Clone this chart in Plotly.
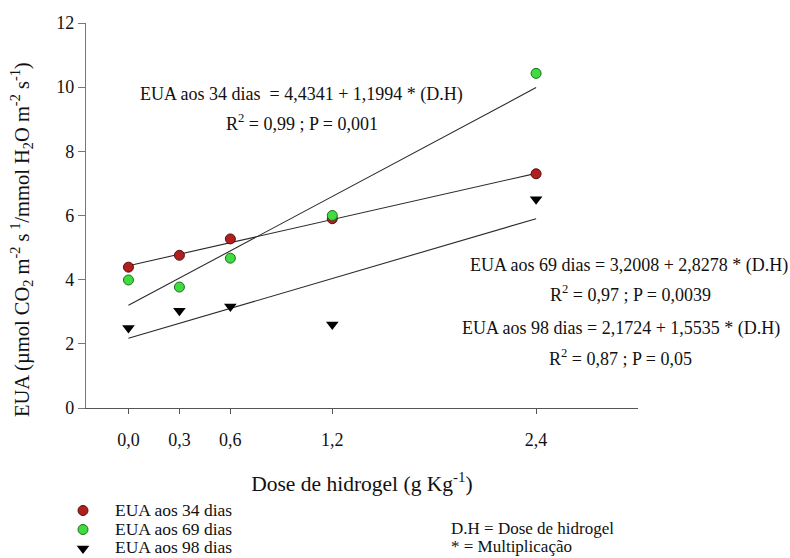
import plotly.graph_objects as go

# Data
dose = [0.0, 0.3, 0.6, 1.2, 2.4]
dose_labels = ["0,0", "0,3", "0,6", "1,2", "2,4"]
eua_34 = [4.39, 4.76, 5.27, 5.90, 7.30]
eua_69 = [3.99, 3.77, 4.67, 6.00, 10.43]
eua_98 = [2.49, 3.03, 3.16, 2.60, 6.51]
series_names = ["EUA aos 34 dias", "EUA aos 69 dias", "EUA aos 98 dias"]
# regression coefficients (intercept, slope) as printed on the chart
reg_34 = (4.4341, 1.1994)
reg_69 = (3.2008, 2.8278)
reg_98 = (2.1724, 1.5535)
line_x = [0.0, 2.4]
y_ticks = [0, 2, 4, 6, 8, 10, 12]

FONT = "Liberation Serif, Times New Roman, serif"
W, H = 790, 558
ML, MR, MT, MB = 86, 152, 23, 150
PW, PH = W - ML - MR, H - MT - MB

def px_x(p):
    return (p - ML) / PW

def px_y(p):
    return (H - MB - p) / PH

fig = go.Figure()

for (a, b) in (reg_34, reg_69, reg_98):
    fig.add_trace(go.Scatter(
        x=line_x, y=[a + b * v for v in line_x], mode="lines",
        line=dict(color="#2a2a2a", width=1.1), showlegend=False, hoverinfo="skip"))

fig.add_trace(go.Scatter(
    x=dose, y=eua_34, mode="markers", name=series_names[0],
    marker=dict(symbol="circle", size=10, color="#b01e1e",
                line=dict(color="#5a0d0d", width=1))))
fig.add_trace(go.Scatter(
    x=dose, y=eua_69, mode="markers", name=series_names[1],
    marker=dict(symbol="circle", size=10, color="#3fdc3f",
                line=dict(color="#1d6b1d", width=1))))
fig.add_trace(go.Scatter(
    x=dose, y=eua_98, mode="markers", name=series_names[2],
    marker=dict(symbol="triangle-down", size=11, color="#000000",
                line=dict(color="#000000", width=0))))

annos = [
    ("EUA aos 34 dias  = 4,4341 + 1,1994 * (D.H)", 301, 95),
    ("R<sup>2</sup> = 0,99 ; P = 0,001", 302, 123),
    ("EUA aos 69 dias = 3,2008 + 2,8278 * (D.H)", 629, 265),
    ("R<sup>2</sup> = 0,97 ; P = 0,0039", 630, 293),
    ("EUA aos 98 dias = 2,1724 + 1,5535 * (D.H)", 621, 328),
    ("R<sup>2</sup> = 0,87 ; P = 0,05", 620, 357),
]
for text, cx, cy in annos:
    fig.add_annotation(text=text, xref="paper", yref="paper",
                       x=px_x(cx), y=px_y(cy), xanchor="center", yanchor="middle",
                       showarrow=False, font=dict(family=FONT, size=18, color="#111"))

fig.add_annotation(text="D.H = Dose de hidrogel", xref="paper", yref="paper",
                   x=px_x(449), y=px_y(528), xanchor="left", yanchor="middle",
                   showarrow=False, font=dict(family=FONT, size=17, color="#111"))
fig.add_annotation(text="* = Multiplicação", xref="paper", yref="paper",
                   x=px_x(449), y=px_y(546), xanchor="left", yanchor="middle",
                   showarrow=False, font=dict(family=FONT, size=17, color="#111"))

# legend labels (legend itself draws the symbols; its own text is tiny and
# transparent so that rows can sit as close together as in the reference)
legend_rows_px = [510, 528.5, 547]
for name, ry in zip(series_names, legend_rows_px):
    fig.add_annotation(text=name, xref="paper", yref="paper",
                       x=px_x(113), y=px_y(ry), xanchor="left", yanchor="middle",
                       showarrow=False, font=dict(family=FONT, size=17.5, color="#111"))

# y-axis title
fig.add_annotation(
    text="EUA (µmol CO<sub>2</sub> m<sup>-2</sup> s<sup> 1</sup>/mmol H<sub>2</sub>O m<sup>-2</sup> s<sup>-1</sup>)",
    xref="paper", yref="paper", x=px_x(21), y=px_y(240), textangle=-90,
    xanchor="center", yanchor="middle", showarrow=False,
    font=dict(family=FONT, size=20.5, color="#111"))

fig.update_layout(
    width=W, height=H,
    margin=dict(l=ML, r=MR, t=MT, b=MB, autoexpand=False),
    paper_bgcolor="white", plot_bgcolor="white",
    font=dict(family=FONT, size=18, color="#111"),
    showlegend=True,
    legend=dict(x=px_x(63), y=px_y(496), xanchor="left", yanchor="top",
                font=dict(family=FONT, size=1, color="rgba(0,0,0,0)"),
                bgcolor="rgba(0,0,0,0)", tracegroupgap=0, itemwidth=30),
    xaxis=dict(range=[-0.25, 3.0], tickvals=dose, ticktext=dose_labels,
               showline=True, linecolor="#555", linewidth=1.2,
               ticks="outside", ticklen=5, tickcolor="#555",
               showgrid=False, zeroline=False, ticklabelstandoff=10,
               tickfont=dict(family=FONT, size=18),
               title=dict(text="Dose de hidrogel (g Kg<sup>-1</sup>)",
                          font=dict(family=FONT, size=21.5), standoff=27)),
    yaxis=dict(range=[0, 12], tickvals=y_ticks,
               showline=True, linecolor="#777", linewidth=1.2,
               ticks="outside", ticklen=7, tickcolor="#777",
               tickfont=dict(family=FONT, size=18),
               showgrid=False, zeroline=False),
)

fig.write_html("out.html")
